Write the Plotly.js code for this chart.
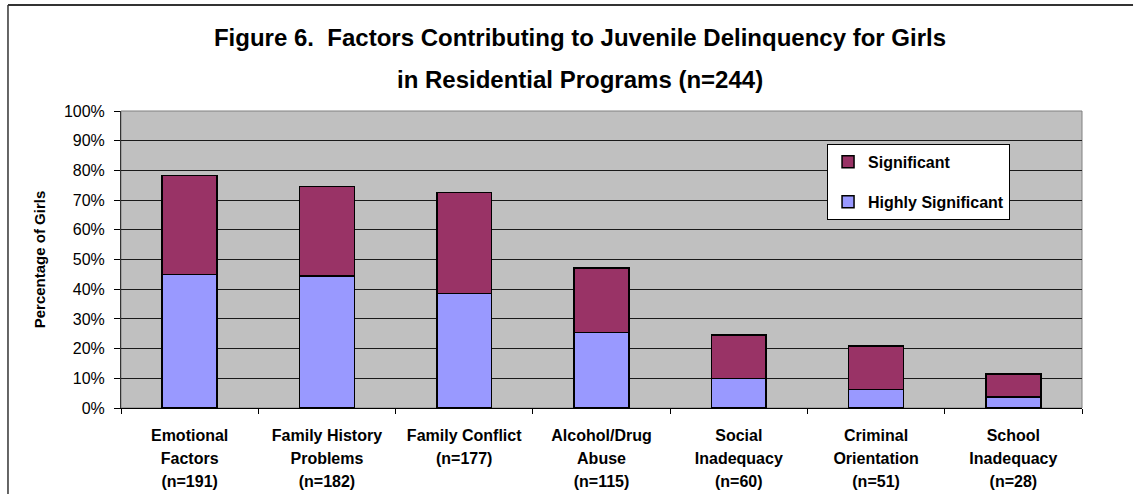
<!DOCTYPE html>
<html>
<head>
<meta charset="utf-8">
<script src="https://cdn.plot.ly/plotly-3.0.1.min.js"></script>
<style>html,body{margin:0;padding:0;background:#fff;}#chart{width:1135px;height:494px;}</style>
</head>
<body>
<div id="chart"></div>
<script>
const categories = [
  "Emotional<br>Factors<br>(n=191)",
  "Family History<br>Problems<br>(n=182)",
  "Family Conflict<br>(n=177)",
  "Alcohol/Drug<br>Abuse<br>(n=115)",
  "Social<br>Inadequacy<br>(n=60)",
  "Criminal<br>Orientation<br>(n=51)",
  "School<br>Inadequacy<br>(n=28)"
];
const highlySignificant = [45.0, 44.5, 38.5, 25.4, 10.0, 6.3, 3.7];
const significant = [33.3, 30.1, 34.0, 21.7, 14.6, 14.6, 7.8];
const titleLine1 = "Figure 6.  Factors Contributing to Juvenile Delinquency for Girls";
const titleLine2 = "in Residential Programs (n=244)";

const FONT = '"Liberation Sans", Arial, sans-serif';

// tick text: keep 16px glyphs but wider line spacing (line spacing follows the 18px tick font)
const tickText = categories.map(c => c.split('<br>').map(l => '<span style="font-size:16px">' + l + '</span>').join('<br>'));

const traces = [
  {
    type: 'bar', name: 'Highly Significant', x: categories, y: highlySignificant,
    marker: {color: '#9999FF', line: {color: '#000000', width: 1.5}},
    legendgroup: 'a', legendrank: 2, hoverinfo: 'y'
  },
  {
    type: 'bar', name: 'Significant', x: categories, y: significant,
    marker: {color: '#993366', line: {color: '#000000', width: 1.5}},
    legendgroup: 'b', legendrank: 1, hoverinfo: 'y'
  }
];

const layout = {
  width: 1135, height: 494,
  margin: {l: 121, r: 53, t: 111, b: 86, pad: 0},
  paper_bgcolor: '#ffffff',
  plot_bgcolor: '#C0C0C0',
  barmode: 'stack',
  bargap: 0.6,
  font: {family: FONT, color: '#000000'},
  title: {
    text: titleLine1,
    font: {family: FONT, size: 24, color: '#000000', weight: 'bold'},
    x: 0.511, xanchor: 'center', xref: 'container',
    y: 0.923, yanchor: 'middle', yref: 'container'
  },
  annotations: [
    {
      text: titleLine2, showarrow: false,
      font: {family: FONT, size: 24, color: '#000000', weight: 'bold'},
      xref: 'paper', yref: 'paper', x: 0.4776, y: 1.107,
      xanchor: 'center', yanchor: 'middle'
    }
  ],
  xaxis: {
    type: 'category',
    tickmode: 'array', tickvals: categories, ticktext: tickText,
    showgrid: false,
    showline: true, linecolor: '#000000', linewidth: 1,
    ticks: 'outside', ticklen: 5, tickcolor: '#000000', tickwidth: 1,
    tickson: 'boundaries',
    ticklabelstandoff: 10,
    tickfont: {family: FONT, size: 18, color: '#000000', weight: 'bold'},
    fixedrange: true
  },
  yaxis: {
    range: [0, 100], dtick: 10, tick0: 0, ticksuffix: '%',
    showgrid: true, gridcolor: '#1a1a1a', gridwidth: 1,
    showline: true, linecolor: '#333333', linewidth: 1,
    ticks: 'outside', ticklen: 6, tickcolor: '#000000', tickwidth: 1,
    ticklabelstandoff: 6,
    tickfont: {family: FONT, size: 16, color: '#000000'},
    zeroline: false,
    title: {text: 'Percentage of Girls', standoff: 14,
            font: {family: FONT, size: 15, color: '#000000', weight: 'bold'}},
    fixedrange: true
  },
  legend: {
    x: 0.7347, y: 0.889, xanchor: 'left', yanchor: 'top',
    bgcolor: '#ffffff', bordercolor: '#000000', borderwidth: 1,
    font: {family: FONT, size: 16, color: '#000000', weight: 'bold'},
    traceorder: 'grouped', tracegroupgap: 16
  },
  showlegend: true,
  shapes: [
    {type: 'rect', xref: 'paper', yref: 'paper', x0: 0, x1: 1, y0: 0, y1: 1,
     line: {color: '#808080', width: 1}, layer: 'below'},
    {type: 'line', xref: 'paper', yref: 'paper', x0: -0.1176, x1: 1.0531, y0: 1.3569, y1: 1.3569,
     line: {color: '#333333', width: 2}},
    {type: 'line', xref: 'paper', yref: 'paper', x0: -0.1176, x1: -0.1176, y0: 1.3569, y1: -0.30,
     line: {color: '#333333', width: 1.5}}
  ]
};

Plotly.newPlot('chart', traces, layout, {displayModeBar: false, staticPlot: true});
</script>
</body>
</html>
